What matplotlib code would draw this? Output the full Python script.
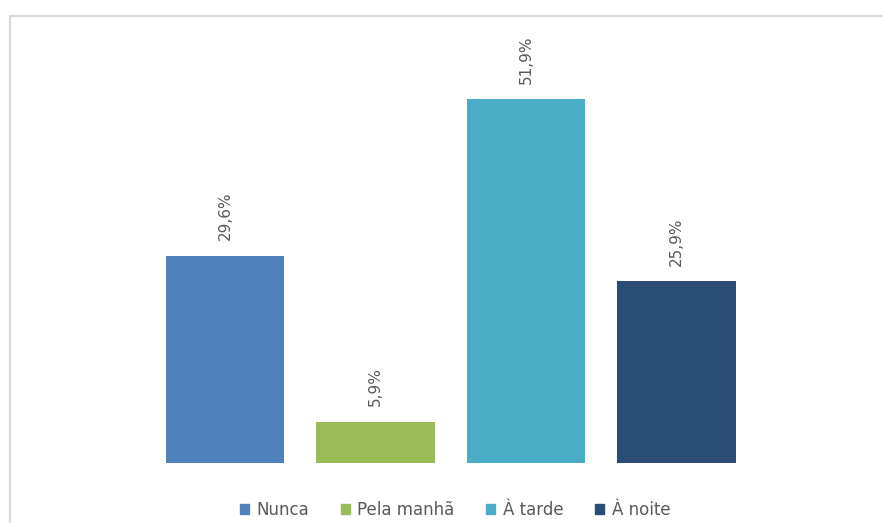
import matplotlib.pyplot as plt
from matplotlib.patches import Rectangle
from matplotlib.lines import Line2D
import numpy as np

categories = ['Nunca', 'Pela manhã', 'À tarde', 'À noite']
values = [29.6, 5.9, 51.9, 25.9]
labels = ['29,6%', '5,9%', '51,9%', '25,9%']
colors = ['#4F81BD', '#9BBB59', '#4BACC6', '#2C4D75']

W, H = 883, 523
fig = plt.figure(figsize=(W / 100, H / 100), dpi=100)
plt.rcParams['font.family'] = ['DejaVu Sans']

# outer chart border (only top and left are visible, the rest is cropped)
bx, by = 9.5 / W, 1 - 15.5 / H
fig.add_artist(Line2D([bx, 1.05], [by, by], transform=fig.transFigure,
                      color='#d9d9d9', lw=1.5))
fig.add_artist(Line2D([bx, bx], [-0.05, by], transform=fig.transFigure,
                      color='#d9d9d9', lw=1.5))

ax = fig.add_axes([149.75 / W, (H - 463) / H, 602 / W, 420.6 / H])
x = np.arange(len(categories))
bars = ax.bar(x, values, width=0.79, color=colors, label=categories)
for xi, v, lab in zip(x, values, labels):
    ax.annotate(lab, (xi, v), xytext=(0, 11), textcoords='offset points',
                rotation=90, ha='center', va='bottom', fontsize=11,
                color='#595959')

ax.set_xlim(-0.5, 3.5)
ax.set_ylim(0, 60)
ax.axis('off')

handles = [Rectangle((0, 0), 1, 1, color=c) for c in colors]
fig.legend(handles, categories, loc='center',
           bbox_to_anchor=(455 / W, 1 - 510 / H), ncol=4, frameon=False,
           fontsize=12, handlelength=0.55, handleheight=0.55,
           handletextpad=0.45, columnspacing=1.9, labelcolor='#595959')

fig.savefig('out.png', dpi=100)
